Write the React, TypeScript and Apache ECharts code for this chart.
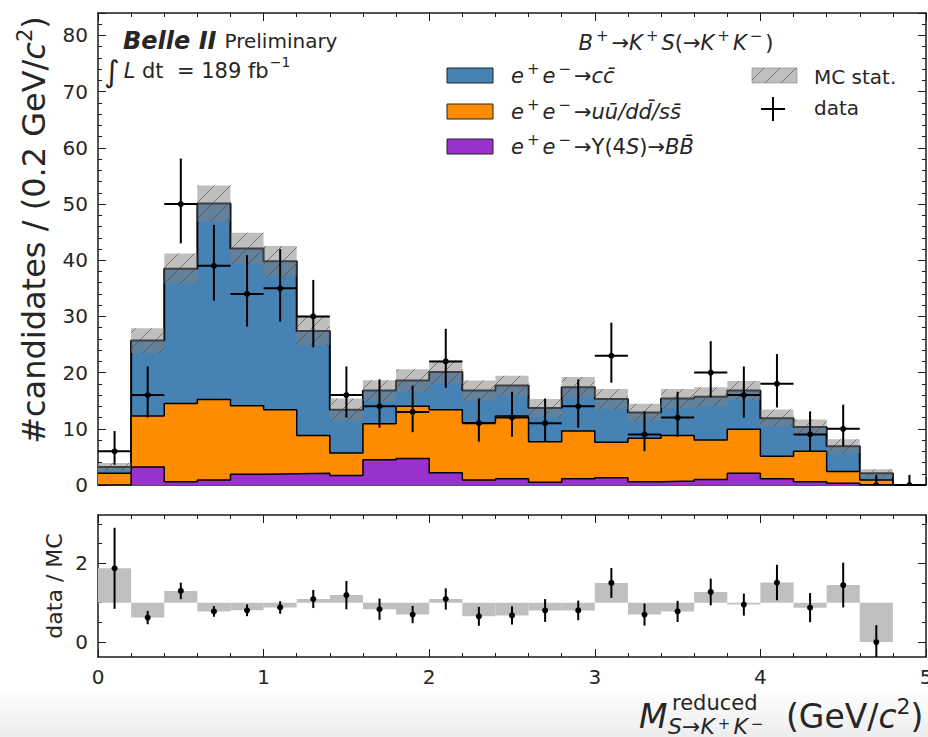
import React, { useEffect, useRef } from "react";
import * as echarts from "echarts";

// ---- data ----
const binLow = [0, 0.2, 0.4, 0.6, 0.8, 1.0, 1.2, 1.4, 1.6, 1.8, 2.0, 2.2, 2.4, 2.6, 2.8, 3.0, 3.2, 3.4, 3.6, 3.8, 4.0, 4.2, 4.4, 4.6, 4.8];
const binWidth = 0.2;
const bbbar = [0, 3.2, 0.6, 0.9, 1.9, 2.0, 2.1, 1.7, 4.5, 4.7, 2.2, 0.9, 1.1, 0.5, 1.1, 1.3, 0.6, 0.7, 1.0, 2.1, 1.1, 0.6, 0.3, 0, 0];
const uds = [2.1, 9.1, 13.9, 14.3, 12.2, 11.4, 6.7, 4.0, 6.4, 9.3, 11.2, 10.2, 11.2, 7.2, 8.5, 6.3, 7.7, 8.1, 7.0, 7.8, 4.0, 5.4, 2.1, 0.9, 0];
const ccbar = [1.1, 13.4, 24.0, 34.9, 28.0, 26.4, 18.6, 7.7, 5.9, 4.6, 6.7, 5.7, 5.4, 6.0, 7.8, 7.7, 4.6, 6.6, 7.7, 6.9, 6.8, 4.3, 4.5, 1.2, 0];
const mcErr = [0.7, 2.2, 2.7, 3.2, 2.8, 2.75, 2.55, 2.0, 1.85, 2.0, 2.05, 1.8, 1.75, 1.6, 1.8, 1.8, 1.55, 1.7, 1.7, 1.7, 1.55, 1.35, 1.25, 0.7, 0];
const dataCounts = [6, 16, 50, 39, 34, 35, 30, 16, 14, 13, 22, 11, 12, 11, 14, 23, 9, 12, 20, 16, 18, 9, 10, 0, 0];
const dataErrLo = [2.4, 4.0, 7.0, 6.2, 5.8, 5.9, 5.5, 4.0, 3.8, 3.6, 4.7, 3.3, 3.4, 3.3, 3.8, 4.8, 3.0, 3.4, 4.4, 4.0, 4.2, 3.0, 3.1, 0, 0];
const dataErrHi = [3.6, 5.1, 8.1, 7.3, 6.9, 7.0, 6.5, 5.1, 4.8, 4.7, 5.8, 4.4, 4.6, 4.4, 4.8, 5.9, 4.1, 4.6, 5.6, 5.1, 5.3, 4.1, 4.3, 1.8, 1.8];
const ratioErr = [1.03, 0.17, 0.21, 0.135, 0.15, 0.16, 0.23, 0.36, 0.27, 0.22, 0.27, 0.24, 0.23, 0.29, 0.25, 0.38, 0.28, 0.27, 0.34, 0.28, 0.45, 0.37, 0.57, 0.43, 0];
const ratioMajorTicks = [0, 2];
const ratioMinorTicks = [0.5, 1, 1.5, 2.5, 3];

const FONT = "DejaVu Sans";
const AX = "#1a1a1a";
const TXT = "#262626";
const BLUE = "#4682b4";
const ORANGE = "#ff8c00";
const PURPLE = "#9932cc";

function hatchLines(X0: number, Y0: number, X1: number, Y1: number, S: number, stroke: string) {
  const out: any[] = [];
  const cStart = Math.ceil((X0 + Y0) / S) * S;
  for (let c = cStart; c <= X1 + Y1; c += S) {
    const xa = Math.max(X0, c - Y1);
    const xb = Math.min(X1, c - Y0);
    if (xb > xa) {
      out.push({ type: "line", shape: { x1: xa, y1: c - xa, x2: xb, y2: c - xb }, style: { stroke, lineWidth: 1 } });
    }
  }
  return out;
}

export default function App() {
  const ref = useRef<HTMLDivElement>(null);
  useEffect(() => {
    if (!ref.current) return;
    const chart = echarts.init(ref.current, undefined, { renderer: "svg" });

    const orangeTop = binLow.map((_, i) => bbbar[i] + uds[i]);
    const total = binLow.map((_, i) => bbbar[i] + uds[i] + ccbar[i]);
    const stepData = (vals: number[]) => {
      const d = binLow.map((x, i) => [x, vals[i]]);
      d.push([binLow[binLow.length - 1] + binWidth, vals[vals.length - 1]]);
      return d;
    };

    const lineStyle = { color: AX, width: 1.5 };
    const tickLine = { color: AX, width: 1 };

    const xAx = (gridIndex: number, position: string, showLabel: boolean) => ({
      type: "value", gridIndex, position, min: 0, max: 5, interval: 1,
      axisLine: { show: true, onZero: false, lineStyle },
      axisTick: { show: true, inside: true, length: 8, lineStyle: tickLine },
      minorTick: { show: true, splitNumber: 5, length: 4, lineStyle: tickLine },
      axisLabel: { show: showLabel, color: TXT, fontSize: 20, fontFamily: FONT, margin: 10 },
      splitLine: { show: false }, minorSplitLine: { show: false },
    });
    const mainY = (position: string, showLabel: boolean) => ({
      type: "value", gridIndex: 0, position, min: 0, max: 84, interval: 10,
      axisLine: { show: true, onZero: false, lineStyle },
      axisTick: { show: true, inside: true, length: 8, lineStyle: tickLine },
      minorTick: { show: true, splitNumber: 5, length: 4, lineStyle: tickLine },
      axisLabel: { show: showLabel, showMaxLabel: false, color: TXT, fontSize: 20, fontFamily: FONT, margin: 10 },
      splitLine: { show: false }, minorSplitLine: { show: false },
    });
    const ratioY = (position: string, major: boolean, showLabel: boolean) => ({
      type: "value", gridIndex: 1, position, min: -0.38, max: 3.23,
      axisLine: { show: major, onZero: false, lineStyle },
      axisTick: { show: true, inside: true, length: major ? 8 : 4, customValues: major ? ratioMajorTicks : ratioMinorTicks, lineStyle: tickLine },
      minorTick: { show: false },
      axisLabel: { show: showLabel, customValues: ratioMajorTicks, color: TXT, fontSize: 20, fontFamily: FONT, margin: 10 },
      splitLine: { show: false },
    });

    const bandData = binLow.map((x, i) => [x, x + binWidth, total[i] - mcErr[i], total[i] + mcErr[i]]);
    const pointData = binLow.map((x, i) => [x + binWidth / 2, dataCounts[i], dataErrLo[i], dataErrHi[i]]);
    const ratioBars: number[][] = [];
    const ratioPts: number[][] = [];
    binLow.forEach((x, i) => {
      if (total[i] > 0) {
        const r = dataCounts[i] / total[i];
        ratioBars.push([x, x + binWidth, Math.min(1, r), Math.max(1, r)]);
        ratioPts.push([x + binWidth / 2, r, ratioErr[i]]);
      }
    });

    const sup = (size: number, pad = 0) => ({ fontSize: size, fontFamily: FONT, fill: TXT, verticalAlign: "top", lineHeight: size + 2, padding: [0, pad, 0, pad] });
    const ital = (size: number) => ({ fontSize: size, fontFamily: FONT, fontStyle: "italic", fill: TXT, lineHeight: size + 8 });
    const up = (size: number) => ({ fontSize: size, fontFamily: FONT, fill: TXT, lineHeight: size + 8 });
    const legRich = { i: ital(21), u: up(21), s: { ...sup(15, 3), fontStyle: "italic" } };

    const option: any = {
      animation: false,
      backgroundColor: "#ffffff",
      textStyle: { fontFamily: FONT },
      grid: [
        { left: 98, top: 13, width: 828, height: 472, outerBoundsMode: "none", containLabel: false },
        { left: 98, top: 515, width: 828, height: 142, outerBoundsMode: "none", containLabel: false },
      ],
      xAxis: [xAx(0, "bottom", false), xAx(0, "top", false), xAx(1, "bottom", true), xAx(1, "top", false)],
      yAxis: [
        mainY("left", true), mainY("right", false),
        ratioY("left", true, true), ratioY("right", true, false),
        ratioY("left", false, false), ratioY("right", false, false),
      ],
      series: [
        {
          name: "ccbar", type: "line", xAxisIndex: 0, yAxisIndex: 0, step: "end", showSymbol: false,
          data: stepData(total), lineStyle: { color: "#000", width: 2 }, areaStyle: { color: BLUE, opacity: 1 }, z: 2,
        },
        {
          name: "uds", type: "line", xAxisIndex: 0, yAxisIndex: 0, step: "end", showSymbol: false,
          data: stepData(orangeTop), lineStyle: { color: "#000", width: 1.5 }, areaStyle: { color: ORANGE, opacity: 1 }, z: 3,
        },
        {
          name: "bbbar", type: "line", xAxisIndex: 0, yAxisIndex: 0, step: "end", showSymbol: false,
          data: stepData(bbbar), lineStyle: { color: "#000", width: 1.5 }, areaStyle: { color: PURPLE, opacity: 1 }, z: 4,
        },
        {
          name: "MC stat.", type: "custom", xAxisIndex: 0, yAxisIndex: 0, z: 5, clip: true,
          encode: { x: [0, 1], y: [2, 3] },
          data: bandData,
          renderItem: (params: any, api: any) => {
            const x0 = api.value(0), x1 = api.value(1), lo = api.value(2), hi = api.value(3);
            if (!(hi > lo)) return null;
            const a = api.coord([x0, hi]);
            const b = api.coord([x1, lo]);
            const children: any[] = [
              { type: "rect", shape: { x: a[0], y: a[1], width: b[0] - a[0], height: b[1] - a[1] }, style: { fill: "rgba(128,128,128,0.5)" } },
              ...hatchLines(a[0], a[1], b[0], b[1], 16, "rgba(70,70,70,0.6)"),
            ];
            return { type: "group", children };
          },
        },
        {
          name: "data", type: "custom", xAxisIndex: 0, yAxisIndex: 0, z: 6, clip: true,
          encode: { x: 0, y: 1 },
          data: pointData,
          renderItem: (params: any, api: any) => {
            const x = api.value(0), n = api.value(1), lo = api.value(2), hi = api.value(3);
            const c = api.coord([x, n]);
            const t = api.coord([x, n + hi]);
            const bt = api.coord([x, n - lo]);
            const l = api.coord([x - binWidth / 2, n]);
            const r = api.coord([x + binWidth / 2, n]);
            return {
              type: "group",
              children: [
                { type: "line", shape: { x1: t[0], y1: t[1], x2: bt[0], y2: bt[1] }, style: { stroke: "#000", lineWidth: 2 } },
                { type: "line", shape: { x1: l[0], y1: l[1], x2: r[0], y2: r[1] }, style: { stroke: "#000", lineWidth: 2 } },
                { type: "circle", shape: { cx: c[0], cy: c[1], r: 3 }, style: { fill: "#000" } },
              ],
            };
          },
        },
        {
          name: "ratio band", type: "custom", xAxisIndex: 2, yAxisIndex: 2, z: 2, clip: true,
          encode: { x: [0, 1], y: [2, 3] },
          data: ratioBars,
          renderItem: (params: any, api: any) => {
            const a = api.coord([api.value(0), api.value(3)]);
            const b = api.coord([api.value(1), api.value(2)]);
            return { type: "rect", shape: { x: a[0], y: a[1], width: b[0] - a[0], height: b[1] - a[1] }, style: { fill: "#bfbfbf" } };
          },
        },
        {
          name: "ratio", type: "custom", xAxisIndex: 2, yAxisIndex: 2, z: 3, clip: true,
          encode: { x: 0, y: 1 },
          data: ratioPts,
          renderItem: (params: any, api: any) => {
            const x = api.value(0), r = api.value(1), e = api.value(2);
            const c = api.coord([x, r]);
            const t = api.coord([x, r + e]);
            const bt = api.coord([x, r - e]);
            return {
              type: "group",
              children: [
                { type: "line", shape: { x1: t[0], y1: t[1], x2: bt[0], y2: bt[1] }, style: { stroke: "#000", lineWidth: 2 } },
                { type: "circle", shape: { cx: c[0], cy: c[1], r: 3 }, style: { fill: "#000" } },
              ],
            };
          },
        },
      ],
      graphic: [
        {
          type: "rect", z: -10, silent: true, shape: { x: 0, y: 688, width: 928, height: 49 },
          style: { fill: new echarts.graphic.LinearGradient(0, 0, 0, 1, [{ offset: 0, color: "#ffffff" }, { offset: 1, color: "#ededed" }]) },
        },
        // Belle II Preliminary
        {
          type: "text", z: 20, style: {
            x: 123, y: 41, verticalAlign: "middle",
            text: "{b|Belle II}{p|Preliminary}",
            rich: {
              b: { fontSize: 24, fontWeight: "bold", fontStyle: "italic", fontFamily: FONT, fill: TXT },
              p: { fontSize: 20, fontFamily: FONT, fill: TXT, padding: [0, 0, 0, 8] },
            },
          },
        },
        {
          type: "text", z: 20, style: {
            x: 104, y: 71, verticalAlign: "middle",
            text: "{g|∫}{i|L}{u| dt  = 189 fb}{s|−1}",
            rich: { g: { ...up(30), lineHeight: 32 }, i: { ...ital(21), padding: [0, 0, 0, 4] }, u: up(21), s: sup(14, 1) },
          },
        },
        // legend title
        {
          type: "text", z: 20, style: {
            x: 676, y: 43, align: "center", verticalAlign: "middle",
            text: "{i|B}{s|+}{u|→}{i|K}{s|+}{i|S}{u|(→}{i|K}{s|+}{i|K}{s|−}{u|)}",
            rich: legRich,
          },
        },
        // legend swatches
        { type: "rect", z: 20, shape: { x: 447, y: 68, width: 46, height: 15 }, style: { fill: BLUE, stroke: "#222", lineWidth: 1 } },
        { type: "rect", z: 20, shape: { x: 447, y: 104, width: 46, height: 15 }, style: { fill: ORANGE, stroke: "#222", lineWidth: 1 } },
        { type: "rect", z: 20, shape: { x: 447, y: 139, width: 46, height: 15 }, style: { fill: PURPLE, stroke: "#222", lineWidth: 1 } },
        {
          type: "text", z: 20, style: {
            x: 511, y: 76, verticalAlign: "middle",
            text: "{i|e}{s|+}{i|e}{s|−}{u|→}{i|cc\u0304}", rich: legRich,
          },
        },
        {
          type: "text", z: 20, style: {
            x: 511, y: 112, verticalAlign: "middle",
            text: "{i|e}{s|+}{i|e}{s|−}{u|→}{i|uu\u0304/dd\u0304/ss\u0304}", rich: legRich,
          },
        },
        {
          type: "text", z: 20, style: {
            x: 511, y: 147, verticalAlign: "middle",
            text: "{i|e}{s|+}{i|e}{s|−}{u|→Υ(4}{i|S}{u|)→}{i|BB\u0304}", rich: legRich,
          },
        },
        {
          type: "group", z: 20,
          children: [
            { type: "rect", shape: { x: 752, y: 68, width: 45, height: 15 }, style: { fill: "rgba(128,128,128,0.5)", stroke: "rgba(128,128,128,0.6)", lineWidth: 1 } },
            ...hatchLines(752, 68, 797, 83, 16, "rgba(70,70,70,0.6)"),
          ],
        },
        { type: "line", z: 20, shape: { x1: 761, y1: 109, x2: 785, y2: 109 }, style: { stroke: "#000", lineWidth: 2 } },
        { type: "line", z: 20, shape: { x1: 773, y1: 97, x2: 773, y2: 121 }, style: { stroke: "#000", lineWidth: 2 } },
        { type: "text", z: 20, style: { x: 814, y: 77, verticalAlign: "middle", text: "MC stat.", fontSize: 20, fontFamily: FONT, fill: TXT } },
        { type: "text", z: 20, style: { x: 814, y: 108, verticalAlign: "middle", text: "data", fontSize: 20, fontFamily: FONT, fill: TXT } },
        // axis titles
        {
          type: "text", z: 20, rotation: Math.PI / 2, x: 34, y: 230, style: {
            x: 0, y: 0, align: "center", verticalAlign: "middle",
            text: "{u|#candidates / (0.2 GeV/}{i|c}{s|2}{u|)}",
            rich: { u: up(32), i: ital(32), s: sup(21) },
          },
        },
        {
          type: "text", z: 20, rotation: Math.PI / 2, x: 54, y: 586, style: {
            x: 0, y: 0, align: "center", verticalAlign: "middle",
            text: "data / MC", fontSize: 22, fontFamily: FONT, fill: TXT,
          },
        },
        { type: "text", z: 20, style: { x: 639, y: 716, verticalAlign: "middle", text: "M", fontSize: 33, lineHeight: 33, fontStyle: "italic", fontFamily: FONT, fill: TXT } },
        { type: "text", z: 20, style: { x: 672, y: 703, verticalAlign: "middle", text: "reduced", fontSize: 21, lineHeight: 18, fontFamily: FONT, fill: TXT } },
        {
          type: "text", z: 20, style: {
            x: 668, y: 726, verticalAlign: "middle",
            text: "{i|S}{u|→}{i|K}{s|+}{i|K}{s|−}",
            rich: { i: { ...ital(22), lineHeight: 20 }, u: { ...up(22), lineHeight: 20 }, s: { ...sup(15, 3), lineHeight: 14, fontStyle: "italic" } },
          },
        },
        {
          type: "text", z: 20, style: {
            x: 786, y: 716, verticalAlign: "middle",
            text: "{u|(GeV/}{i|c}{s|2}{u|)}",
            rich: { u: up(33), i: ital(33), s: sup(22) },
          },
        },
      ],
    };

    chart.setOption(option);
    return () => chart.dispose();
  }, []);

  return <div ref={ref} style={{ position: "fixed", left: 0, top: 0, width: 928, height: 737 }} />;
}
